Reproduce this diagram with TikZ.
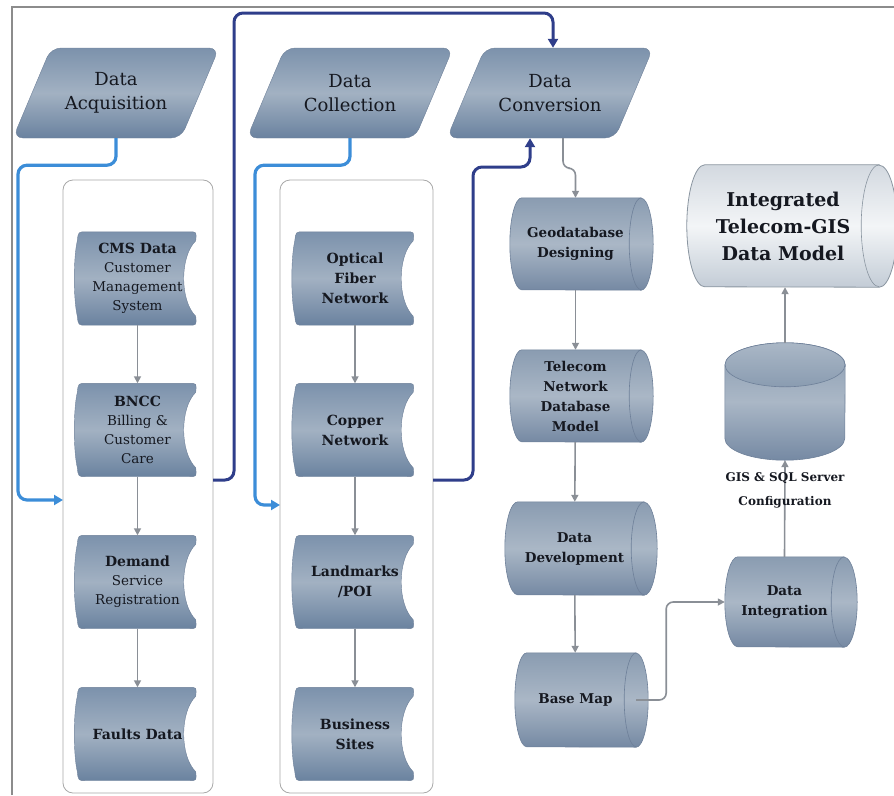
\documentclass[tikz,border=0pt]{standalone}
\usepackage{fontspec}
\setmainfont{DejaVu Serif}
\usetikzlibrary{arrows.meta,calc}
\pgfdeclarelayer{bg}
\pgfsetlayers{bg,main}
\definecolor{shTop}{HTML}{7C92AC}
\definecolor{shMid}{HTML}{A2B1C2}
\definecolor{shBot}{HTML}{6A829F}
\definecolor{shEdge}{HTML}{6E8099}
\definecolor{cyTop}{HTML}{8A9CB1}
\definecolor{cyMid}{HTML}{AAB7C6}
\definecolor{cyBot}{HTML}{7589A3}
\definecolor{igTop}{HTML}{D3D9E0}
\definecolor{igMid}{HTML}{F3F5F7}
\definecolor{igBot}{HTML}{C3CCD6}
\definecolor{igEdge}{HTML}{8A95A0}
\definecolor{lblue}{HTML}{3C8DD8}
\definecolor{dblue}{HTML}{2F3E8A}
\definecolor{garrow}{HTML}{8A8F96}
\definecolor{panelc}{HTML}{A8A8A8}
\definecolor{framec}{HTML}{8C8C8C}
\definecolor{txt}{HTML}{151820}
\tikzset{
  paratext/.style={align=center, font=\fontsize{18}{24}\selectfont, text=txt,
    minimum width=130pt, minimum height=90pt, inner sep=0pt},
  doctext/.style={align=center, font=\fontsize{13.5}{19}\selectfont, text=txt,
    minimum width=118pt, minimum height=93pt, inner sep=0pt},
  cyltext/.style={align=center, font=\bfseries\fontsize{13.5}{20}\selectfont, text=txt,
    inner sep=0pt},
  panelbox/.style={draw=panelc, line width=0.8pt, rounded corners=10pt, inner sep=0pt},
  parash/.style={top color=shTop, bottom color=shBot, middle color=shMid, draw=shEdge,
    line width=0.4pt, rounded corners=10pt},
  docsh/.style={top color=shTop, bottom color=shBot, middle color=shMid, draw=shEdge,
    line width=0.4pt},
  cylsh/.style={top color=cyTop, bottom color=cyBot, middle color=cyMid, draw=shEdge,
    line width=0.6pt},
  igsh/.style={top color=igTop, bottom color=igBot, middle color=igMid, draw=igEdge,
    line width=0.8pt},
  garr/.style={draw=garrow, line width=1.6pt, -{Triangle[length=7pt,width=7pt]}, rounded corners=7pt},
  lbarr/.style={draw=lblue, line width=3.2pt, -{Triangle[length=9pt,width=10pt]}, rounded corners=9pt},
  dbarr/.style={draw=dblue, line width=3pt, -{Triangle[length=9pt,width=10pt]}, rounded corners=9pt},
  framel/.style={draw=framec, line width=1.4pt},
}
\newcommand\paraShape[1]{\begin{pgfonlayer}{bg}
  \shadedraw[parash] ($(#1)+(-65,-45)$) -- ($(#1)+(103,-45)$) -- ($(#1)+(65,45)$) -- ($(#1)+(-103,45)$) -- cycle;
  \end{pgfonlayer}}
\newcommand\docShape[1]{\begin{pgfonlayer}{bg}
  \shadedraw[docsh] ($(#1.north west)+(8,0)$) -- ($(#1.north east)+(-8,0)$)
   .. controls (#1.north east) .. ($(#1.north east)+(-1,9)$)
   .. controls ($(#1.east)+(-17,-22)$) and ($(#1.east)+(-17,22)$) .. ($(#1.south east)+(-1,-9)$)
   .. controls (#1.south east) .. ($(#1.south east)+(-8,0)$)
   -- ($(#1.south west)+(8,0)$)
   .. controls (#1.south west) .. ($(#1.south west)+(-1,-9)$)
   .. controls ($(#1.west)+(-5,20)$) and ($(#1.west)+(-5,-20)$) .. ($(#1.north west)+(-1,9)$)
   .. controls (#1.north west) .. ($(#1.north west)+(8,0)$) -- cycle;
  \end{pgfonlayer}}
% name, x radius, y radius, style, edge colour
\newcommand\hCyl[5]{\begin{pgfonlayer}{bg}
  \shadedraw[#4] (#1.north east) -- ($(#1.north west)+(#2,0)$) arc[start angle=90,end angle=270,x radius=#2pt,y radius=#3pt]
     -- (#1.south east) arc[start angle=270,end angle=450,x radius=#2pt,y radius=#3pt] -- cycle;
  \draw[draw=#5, line width=0.6pt] (#1.north east) arc[start angle=90,end angle=270,x radius=#2pt,y radius=#3pt];
  \end{pgfonlayer}}
\begin{document}
\begin{tikzpicture}[x=1pt,y=-1pt]
\useasboundingbox (0,0) rectangle (894,795);
% frame
\coordinate (fbl) at (12,795);
\coordinate (ftl) at (12,7);
\coordinate (ftr) at (894,7);
\draw[framel] (fbl) -- (ftl) -- (ftr);

% panels
\node[panelbox, minimum width=150pt, minimum height=613pt] (p1) at (138,486.5) {};
\node[panelbox, minimum width=153pt, minimum height=613pt] (p2) at (356.5,486.5) {};
\coordinate (p1in) at (63,500);
\coordinate (p1out) at (213,480);
\coordinate (p2in) at (280,505);
\coordinate (p2out) at (433,480);

% parallelograms
\node[paratext] (acq) at (116,93) {Data\\Acquisition};
\node[paratext] (col) at (350,93) {Data\\Collection};
\node[paratext] (conv) at (550,93) {Data\\Conversion};
\paraShape{acq}\paraShape{col}\paraShape{conv}

% documents column 1
\node[doctext] (cms) at (137.5,278.5) {{\bfseries\fontsize{14}{19}\selectfont CMS Data}\\Customer\\Management\\System};
\node[doctext] (bncc) at (137.5,430) {{\bfseries\fontsize{14}{19}\selectfont BNCC}\\Billing \&\\Customer\\Care};
\node[doctext] (dem) at (137.5,582) {{\bfseries\fontsize{14}{19}\selectfont Demand}\\Service\\Registration};
\node[doctext, font=\bfseries\fontsize{14}{20}\selectfont] (flt) at (137.5,734) {Faults Data};
% documents column 2
\node[doctext, font=\bfseries\fontsize{14}{20}\selectfont] (opt) at (355,278.5) {Optical\\Fiber\\Network};
\node[doctext, font=\bfseries\fontsize{14}{20}\selectfont] (cop) at (355,430) {Copper\\Network};
\node[doctext, font=\bfseries\fontsize{14}{20}\selectfont] (land) at (355,582) {Landmarks\\/POI};
\node[doctext, font=\bfseries\fontsize{14}{20}\selectfont] (bus) at (355,734) {Business\\Sites};
\docShape{cms}\docShape{bncc}\docShape{dem}\docShape{flt}
\docShape{opt}\docShape{cop}\docShape{land}\docShape{bus}

% cylinders column 3
\node[cyltext, minimum width=131pt, minimum height=92pt] (geo) at (575.5,244) {Geodatabase\\Designing};
\node[cyltext, minimum width=131pt, minimum height=92pt] (tel) at (575.5,396) {Telecom\\Network\\Database\\Model};
\node[cyltext, minimum width=139pt, minimum height=93pt] (dev) at (574.5,548.5) {Data\\Development};
\node[cyltext, minimum width=121pt, minimum height=94pt] (base) at (575.5,700) {Base Map};
\hCyl{geo}{12}{46}{cylsh}{shEdge}
\hCyl{tel}{12}{46}{cylsh}{shEdge}
\hCyl{dev}{13}{46.5}{cylsh}{shEdge}
\hCyl{base}{12}{47}{cylsh}{shEdge}

% right column
\node[cyltext, minimum width=119pt, minimum height=90pt] (integ) at (784.5,602) {Data\\Integration};
\hCyl{integ}{13}{45}{cylsh}{shEdge}
\node[cyltext, font=\bfseries\fontsize{19}{27}\selectfont, minimum width=192pt, minimum height=122pt] (intg) at (783,226) {Integrated\\Telecom-GIS\\Data Model};
\hCyl{intg}{18}{61}{igsh}{igEdge}
\node[inner sep=0pt, minimum width=120pt, minimum height=117pt] (db) at (785,401.5) {};
\begin{pgfonlayer}{bg}
\shadedraw[cylsh] ($(db.north west)+(0,22)$) -- ($(db.south west)+(0,-22)$)
   arc[start angle=180,end angle=360,x radius=60pt,y radius=22pt]
   -- ($(db.north east)+(0,22)$) arc[start angle=0,end angle=180,x radius=60pt,y radius=22pt] -- cycle;
\shadedraw[draw=shEdge, line width=0.6pt, top color=cyMid, bottom color=cyTop] ($(db.north)+(0,22)$) ellipse[x radius=60pt,y radius=22pt];
\end{pgfonlayer}

% gray connectors
\draw[garr] (cms) -- (bncc);
\draw[garr] (bncc) -- (dem);
\draw[garr] (dem) -- (flt);
\draw[garr] (opt) -- (cop);
\draw[garr] (cop) -- (land);
\draw[garr] (land) -- (bus);
\draw[garr] ($(conv.south)+(13,0)$) -- ++(0,30) -| (geo.north);
\draw[garr] (geo) -- (tel);
\draw[garr] (tel) -- (dev);
\draw[garr] (dev) -- (base);
\draw[garr] (base.east) -- ++(30,0) |- (integ.west);
\draw[garr] (integ.north) -- (db.south);
\draw[garr] (db.north) -- (db.north |- intg.south);
\node[font=\bfseries\fontsize{12}{24}\selectfont, align=center, text=txt] (gislbl) at (785,490) {GIS \& SQL Server\\Configuration};

% blue connectors
\draw[lbarr] (acq.south) -- ++(0,27) -- ++(-98,0) |- (p1in);
\draw[dbarr] (p1out) -- ++(21,0) -- ++(0,-467) -| ($(conv.north)+(3,0)$);
\draw[lbarr] (col.south) -- ++(0,27) -- ++(-95,0) |- (p2in);
\draw[dbarr] (p2out) -- ++(40,0) -- ++(0,-313) -| ($(conv.south)+(-20,0)$);
\end{tikzpicture}
\end{document}
